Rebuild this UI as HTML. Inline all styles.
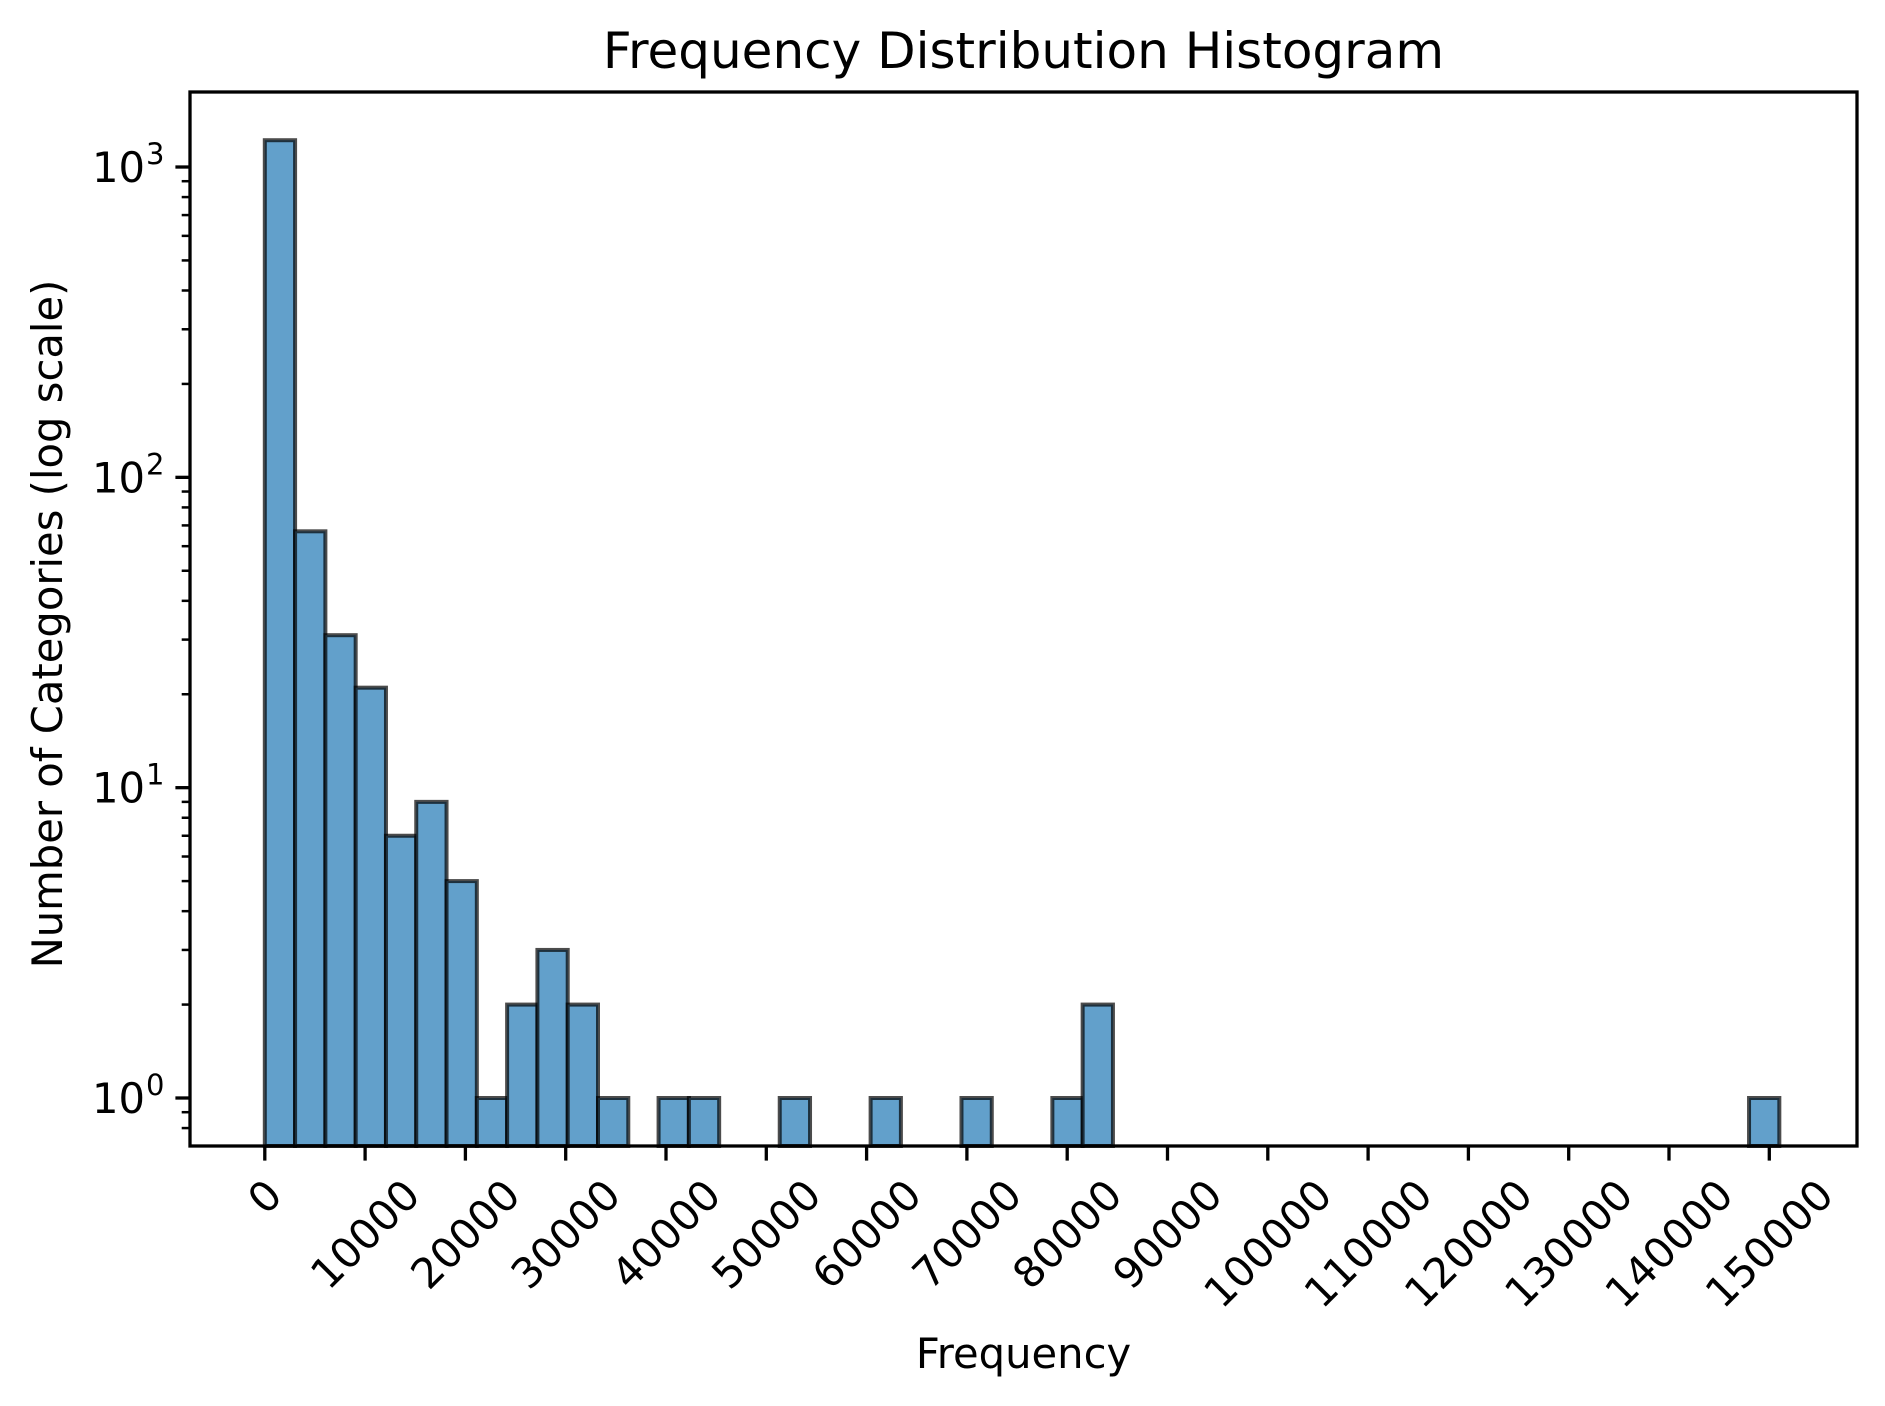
<!DOCTYPE html>
<html><head><meta charset="utf-8"><style>
html,body{margin:0;padding:0;background:#fff;}
svg{display:block;font-family:"DejaVu Sans","Liberation Sans",sans-serif;}
</style></head><body>
<svg id="chart" width="1885" height="1406" viewBox="0 0 1885 1406" xmlns="http://www.w3.org/2000/svg">
<rect width="1885" height="1406" fill="#fff"/>
<text x="1023.5" y="68" text-anchor="middle" font-size="50" fill="#000">Frequency Distribution Histogram</text>
<text x="1023.5" y="1368" text-anchor="middle" font-size="41.7" fill="#000">Frequency</text>
<text transform="translate(62,624) rotate(-90)" text-anchor="middle" font-size="41.7" fill="#000">Number of Categories (log scale)</text>
<g id="bars"></g>
<g id="ticks"></g>
<rect x="190" y="92" width="1667" height="1054" fill="none" stroke="#000" stroke-width="3.3"/>
</svg>
<script>
const binStarts = [0,1,2,3,4,5,6,7,8,9,10,11,13,14,17,20,23,26,27,49];
const counts = [1220,67,31,21,7,9,5,1,2,3,2,1,1,1,1,1,1,1,2,1];
const binWidth = 3020;
const xTicks = [0,10000,20000,30000,40000,50000,60000,70000,80000,90000,100000,110000,120000,130000,140000,150000];
const yDecades = [0,1,2,3];

const NS = "http://www.w3.org/2000/svg";
const L = 190, R = 1857, T = 92, B = 1146;
const x = v => 264.8 + v * 100.3 / 10000;
const y = v => 1098 - (Math.log10(v)) * 310.33;
const bars = document.getElementById('bars');
const ticks = document.getElementById('ticks');
function mk(tag, attrs, parent){const e=document.createElementNS(NS,tag);for(const k in attrs)e.setAttribute(k,attrs[k]);parent.appendChild(e);return e;}

binStarts.forEach((b,i)=>{
  const x0 = x(b*binWidth), x1 = x((b+1)*binWidth), yt = y(counts[i]);
  const r = mk('rect',{x:x0,y:yt,width:x1-x0,height:B-yt,fill:'#62a0cb',stroke:'#000','stroke-opacity':0.7,'stroke-width':4},bars);
  
  
});

xTicks.forEach(v=>{
  const px = x(v);
  const t = mk('line',{x1:px,x2:px,y1:B,y2:B+14.6,stroke:'#000','stroke-width':3.3},ticks);
  
  
  const s = String(v), fs = 41.7;
  const w = s.length*0.636*fs, h = fs*1.0;
  const bh = (w+h)*Math.SQRT1_2;
  const cy = B + 14.6 + 12 + bh/2;
  const tx = mk('text',{x:px,y:cy,'text-anchor':'middle','dominant-baseline':'central','font-size':fs,fill:'#000',transform:`rotate(-45 ${px} ${cy})`},ticks);
  tx.textContent = s;
  
  
});

yDecades.forEach(d=>{
  const py = y(Math.pow(10,d));
  const t = mk('line',{x1:L-14.6,x2:L,y1:py,y2:py,stroke:'#000','stroke-width':3.3},ticks);
  
  
  const tx = mk('text',{x:L-45,y:py+15,'text-anchor':'end','font-size':41.7,fill:'#000'},ticks);
  tx.textContent = '10';
  
  
  const sp = mk('text',{x:L-44,y:py-3,'text-anchor':'start','font-size':29,fill:'#000'},ticks);
  sp.textContent = String(d);
  
  
});
for(let d=-1; d<=3; d++){
  for(let m=2;m<=9;m++){
    const v = m*Math.pow(10,d), py = y(v);
    if(py<T||py>B) continue;
    const t = mk('line',{x1:L-8.3,x2:L,y1:py,y2:py,stroke:'#000','stroke-width':2.5},ticks);
    
    
  }
}
</script>
</body></html>
